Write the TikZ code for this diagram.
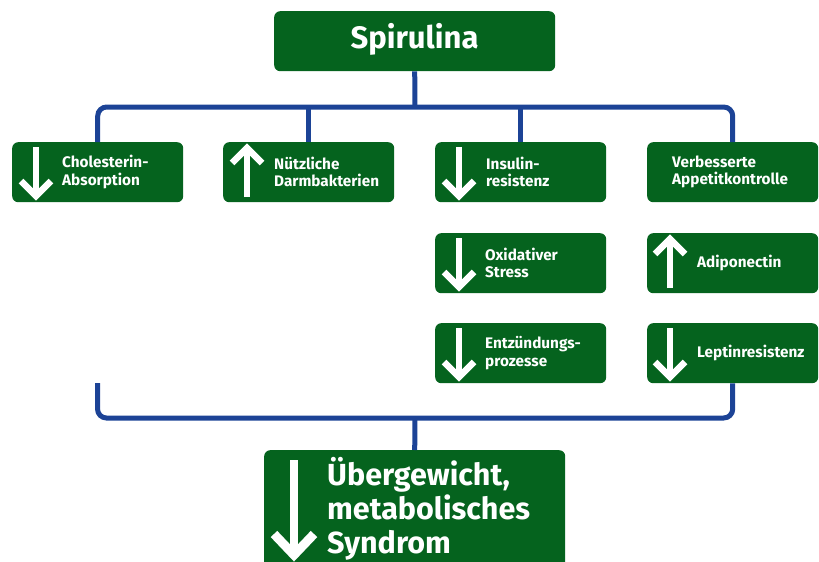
\documentclass[tikz,border=0pt]{standalone}
\usepackage{fontspec}
\setmainfont{Fira Sans}
\definecolor{boxgreen}{RGB}{5,99,30}
\definecolor{linkblue}{RGB}{28,67,150}
\begin{document}
\begin{tikzpicture}[x=1pt,y=-1pt,
  box/.style={fill=boxgreen, rounded corners=6pt, inner sep=0pt, anchor=north west},
  smallbox/.style={box, minimum width=171pt, minimum height=60pt},
  lbl/.style={text=white, font=\bfseries\fontsize{15.3}{17.5}\selectfont, align=left, anchor=west, inner sep=0pt},
  conn/.style={draw=linkblue, line width=5pt, rounded corners=9pt},
  wshaft/.style={draw=white, line width=5.5pt, line cap=butt},
  whead/.style={draw=white, line width=6.5pt, line join=miter, line cap=butt}
]
\useasboundingbox (0,0) rectangle (819,562);
\clip (0,0) rectangle (819,562);

% boxes
\node[box, minimum width=281pt, minimum height=60pt] (sp) at (274,11) {};
\node[text=white, font=\bfseries\fontsize{31}{36}\selectfont, inner sep=0pt] (spt) at (414.5,39) {Spirulina};

\node[smallbox] (b1) at (12,142) {};
\node[smallbox] (b2) at (223,142) {};
\node[smallbox] (b3) at (435,142) {};
\node[smallbox] (b4) at (647,142) {};
\node[smallbox] (c3) at (435,233) {};
\node[smallbox] (c4) at (647,233) {};
\node[smallbox] (d3) at (435,323) {};
\node[smallbox] (d4) at (647,323) {};
\node[box, minimum width=301pt, minimum height=130pt] (ub) at (264,450) {};

% labels
\node[lbl] (t1) at (62,172) {Cholesterin-\\Absorption};
\node[lbl] (t2) at (274,172) {Nützliche\\Darmbakterien};
\node[lbl] (t3) at (486,172) {Insulin-\\resistenz};
\node[lbl] (t4) at (672,172) {Verbesserte\\Appetitkontrolle};
\node[lbl] (t5) at (485,263) {Oxidativer\\Stress};
\node[lbl] (t6) at (697,263) {Adiponectin};
\node[lbl] (t7) at (485,353) {Entzündungs-\\prozesse};
\node[lbl] (t8) at (697,353) {Leptinresistenz};
\node[text=white, font=\bfseries\fontsize{30.5}{34}\selectfont, align=left, anchor=north west, inner sep=0pt] (ut) at (327,457) {Übergewicht,\\metabolisches\\Syndrom};

% arrows (down)
\foreach \x/\ya/\yb in {36/147/197, 459/147/197, 459/238/288, 459/328/378, 670/328/378}{
  \draw[wshaft] (\x,\ya) -- (\x,\yb-3);
  \draw[whead] (\x-15,\yb-16) -- (\x,\yb-1) -- (\x+15,\yb-16);
}
% arrows (up)
\foreach \x/\ya/\yb in {247/147/197, 670/238/288}{
  \draw[wshaft] (\x,\yb) -- (\x,\ya+3);
  \draw[whead] (\x-15,\ya+16) -- (\x,\ya+1) -- (\x+15,\ya+16);
}
% big arrow
\draw[wshaft, line width=8pt] (294,460) -- (294,553);
\draw[whead, line width=9pt] (274,534) -- (294,555) -- (314,534);

% connectors
\coordinate (top) at (415,107);
\coordinate (bot) at (415,418);
\coordinate (lfree) at (97.5,383);
\draw[conn] (b1.north) |- (top) -| (b4.north);
\draw[conn] (sp.south) -- (top);
\draw[conn] (b2.north) -- (b2.north |- top);
\draw[conn] (b3.north) -- (b3.north |- top);
\draw[conn] (lfree) |- (bot) -| (d4.south);
\draw[conn] (bot) -- (ub.north);
\end{tikzpicture}
\end{document}
